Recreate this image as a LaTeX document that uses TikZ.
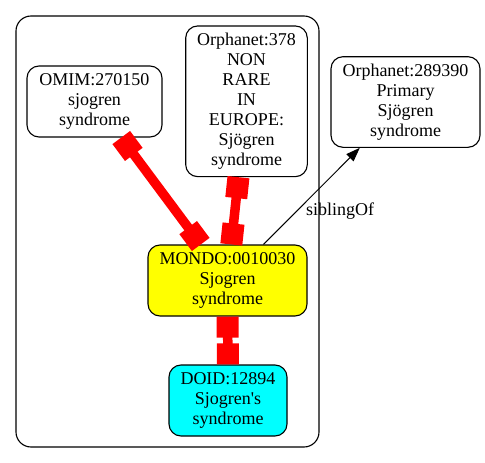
\documentclass[tikz,border=0pt]{standalone}
\usepackage{fontspec}
\setmainfont{Liberation Serif}
\usetikzlibrary{arrows.meta}
\definecolor{gvyellow}{RGB}{255,255,0}
\definecolor{gvcyan}{RGB}{0,255,255}
\definecolor{gvred}{RGB}{255,0,0}
\begin{document}
\begin{tikzpicture}[x=1pt,y=-1pt,
  every node/.style={font=\fontsize{18}{20}\selectfont},
  term/.style={draw, line width=1.1pt, rounded corners=12pt, align=center, inner sep=0pt},
  xref/.style={draw=gvred, line width=9.5pt, {Rectangle[length=21pt,width=22pt]}-{Rectangle[length=21pt,width=22pt]}},
  rel/.style={draw=black, line width=1pt, -{Triangle[length=14pt,width=10pt]}},
]
\useasboundingbox (0,0) rectangle (485,463);
\draw[line width=1.1pt, rounded corners=15pt] (16,16) rectangle (319,447);
\node[term, minimum width=135pt, minimum height=71pt] (omim) at (94.5,101.5) {OMIM:270150\\sjogren\\syndrome};
\node[term, minimum width=121.6pt, minimum height=150.7pt] (orpha) at (246.5,101.3) {Orphanet:378\\NON\\RARE\\IN\\EUROPE:\\Sjögren\\syndrome};
\node[term, minimum width=149pt, minimum height=90.6pt] (orphb) at (405.5,102) {Orphanet:289390\\Primary\\Sjögren\\syndrome};
\node[term, fill=gvyellow, minimum width=159pt, minimum height=71pt] (mondo) at (227.5,280.5) {MONDO:0010030\\Sjogren\\syndrome};
\node[term, fill=gvcyan, minimum width=118pt, minimum height=71pt] (doid) at (228,400.5) {DOID:12894\\Sjogren\textquotesingle s\\syndrome};
\draw[xref] (omim) -- (mondo);
\draw[xref] (orpha) -- (mondo);
\draw[xref] (mondo) -- (doid);
\draw[rel] (mondo) -- node[pos=0.35, anchor=west, xshift=5pt] {siblingOf} (orphb);
\end{tikzpicture}
\end{document}
